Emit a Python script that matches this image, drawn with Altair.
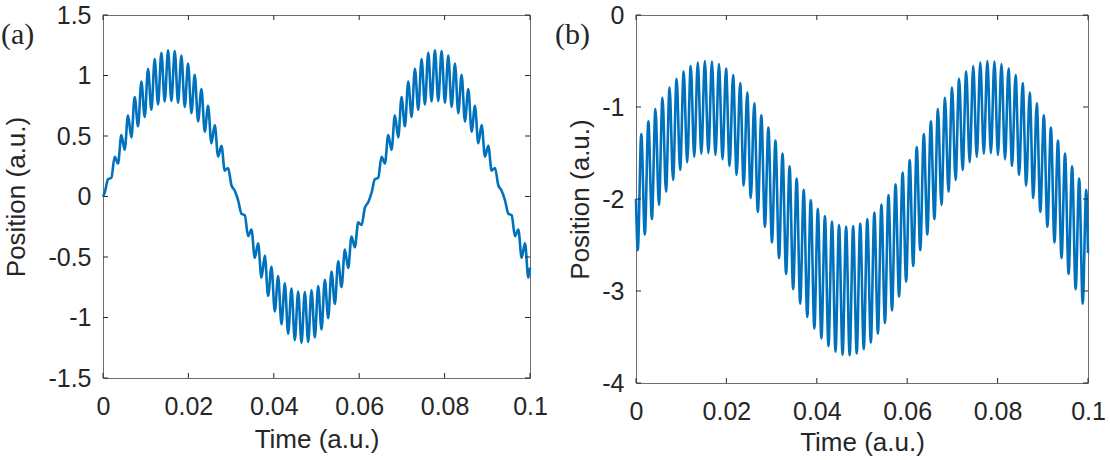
import altair as alt
import pandas as pd

# Sample times (ms): start, every fast half-cycle extremum, end
TIME_MS = [
    0.0,
    0.391, 1.172, 1.953, 2.734, 3.516, 4.297, 5.078, 5.859, 6.641, 7.422,
    8.203, 8.984, 9.766, 10.547, 11.328, 12.109, 12.891, 13.672, 14.453, 15.234,
    16.016, 16.797, 17.578, 18.359, 19.141, 19.922, 20.703, 21.484, 22.266, 23.047,
    23.828, 24.609, 25.391, 26.172, 26.953, 27.734, 28.516, 29.297, 30.078, 30.859,
    31.641, 32.422, 33.203, 33.984, 34.766, 35.547, 36.328, 37.109, 37.891, 38.672,
    39.453, 40.234, 41.016, 41.797, 42.578, 43.359, 44.141, 44.922, 45.703, 46.484,
    47.266, 48.047, 48.828, 49.609, 50.391, 51.172, 51.953, 52.734, 53.516, 54.297,
    55.078, 55.859, 56.641, 57.422, 58.203, 58.984, 59.766, 60.547, 61.328, 62.109,
    62.891, 63.672, 64.453, 65.234, 66.016, 66.797, 67.578, 68.359, 69.141, 69.922,
    70.703, 71.484, 72.266, 73.047, 73.828, 74.609, 75.391, 76.172, 76.953, 77.734,
    78.516, 79.297, 80.078, 80.859, 81.641, 82.422, 83.203, 83.984, 84.766, 85.547,
    86.328, 87.109, 87.891, 88.672, 89.453, 90.234, 91.016, 91.797, 92.578, 93.359,
    94.141, 94.922, 95.703, 96.484, 97.266, 98.047, 98.828, 99.609,
    100.0,
]

# Panel (a): position at each sample time
POSITION_A = [
    0.0,
    0.031, 0.142, 0.154, 0.328, 0.273, 0.507, 0.386, 0.672, 0.489, 0.821,
    0.580, 0.950, 0.657, 1.056, 0.717, 1.135, 0.760, 1.187, 0.785, 1.209,
    0.789, 1.202, 0.775, 1.165, 0.741, 1.099, 0.689, 1.006, 0.620, 0.889,
    0.536, 0.749, 0.439, 0.591, 0.331, 0.419, 0.214, 0.236, 0.093, 0.048,
    -0.031, -0.142, -0.154, -0.328, -0.273, -0.507, -0.386, -0.672, -0.489, -0.821,
    -0.580, -0.950, -0.657, -1.056, -0.717, -1.135, -0.760, -1.187, -0.785, -1.209,
    -0.789, -1.202, -0.775, -1.165, -0.741, -1.099, -0.689, -1.006, -0.620, -0.889,
    -0.536, -0.749, -0.439, -0.591, -0.331, -0.419, -0.214, -0.236, -0.093, -0.048,
    0.031, 0.142, 0.154, 0.328, 0.273, 0.507, 0.386, 0.672, 0.489, 0.821,
    0.580, 0.950, 0.657, 1.056, 0.717, 1.135, 0.760, 1.187, 0.785, 1.209,
    0.789, 1.202, 0.775, 1.165, 0.741, 1.099, 0.689, 1.006, 0.620, 0.889,
    0.536, 0.749, 0.439, 0.591, 0.331, 0.419, 0.214, 0.236, 0.093, 0.048,
    -0.031, -0.142, -0.154, -0.328, -0.273, -0.507, -0.386, -0.672,
    -0.588,
]

# Panel (b): position at each sample time
POSITION_B = [
    -2.0,
    -2.557, -1.294, -2.385, -1.156, -2.219, -1.023, -2.063, -0.900, -1.919, -0.789,
    -1.792, -0.693, -1.685, -0.615, -1.601, -0.556, -1.541, -0.517, -1.508, -0.501,
    -1.501, -0.506, -1.521, -0.534, -1.568, -0.583, -1.640, -0.652, -1.736, -0.739,
    -1.853, -0.843, -1.989, -0.960, -2.140, -1.089, -2.301, -1.224, -2.471, -1.365,
    -2.643, -1.506, -2.815, -1.644, -2.981, -1.777, -3.138, -1.900, -3.281, -2.011,
    -3.408, -2.107, -3.515, -2.185, -3.599, -2.244, -3.659, -2.283, -3.692, -2.299,
    -3.699, -2.294, -3.679, -2.266, -3.632, -2.217, -3.560, -2.148, -3.464, -2.061,
    -3.347, -1.957, -3.211, -1.840, -3.061, -1.712, -2.899, -1.576, -2.729, -1.435,
    -2.557, -1.294, -2.385, -1.156, -2.219, -1.023, -2.063, -0.900, -1.919, -0.789,
    -1.792, -0.693, -1.685, -0.615, -1.601, -0.556, -1.541, -0.517, -1.508, -0.501,
    -1.501, -0.506, -1.521, -0.534, -1.568, -0.583, -1.640, -0.652, -1.736, -0.739,
    -1.853, -0.843, -1.989, -0.960, -2.140, -1.089, -2.301, -1.224, -2.471, -1.365,
    -2.643, -1.506, -2.815, -1.644, -2.981, -1.777, -3.138, -1.900,
    -2.588,
]

X_TICKS = [0, 0.02, 0.04, 0.06, 0.08, 0.1]
Y_TICKS_A = [-1.5, -1, -0.5, 0, 0.5, 1, 1.5]
Y_TICKS_B = [-4, -3, -2, -1, 0]

LINE_COLOR = "#0072BD"
INK = "#262626"
FONT = "Liberation Sans"
TICK_LEN = 5

LABEL_EXPR = ("datum.value < 0 ? '-' + format(-datum.value, '~g') "
              ": format(datum.value, '~g')")


def x_enc(field, pads):
    return alt.X(
        field,
        type="quantitative",
        scale=alt.Scale(domain=[0, 0.1], nice=False, zero=False),
        axis=alt.Axis(values=X_TICKS, title="Time (a.u.)", labelExpr=LABEL_EXPR,
                      labelPadding=pads["xl"], titlePadding=pads["xt"]),
    )


def y_enc(field, ticks, pads):
    return alt.Y(
        field,
        type="quantitative",
        scale=alt.Scale(domain=[ticks[0], ticks[-1]], nice=False, zero=False),
        axis=alt.Axis(values=ticks, title="Position (a.u.)", labelExpr=LABEL_EXPR,
                      labelPadding=pads["yl"], titlePadding=pads["yt"]),
    )


def panel(values, y_ticks, width, height, tag, tag_x, tag_y, pads):
    curve = pd.DataFrame({"time": [t / 1000 for t in TIME_MS], "position": values})
    xt = pd.DataFrame({"t": X_TICKS})
    yt = pd.DataFrame({"v": y_ticks})

    line = alt.Chart(curve).mark_line(
        color=LINE_COLOR, strokeWidth=2.6, interpolate="monotone"
    ).encode(x=x_enc("time", pads), y=y_enc("position", y_ticks, pads))

    # inward tick marks on all four sides of the box
    tick_style = dict(color=INK, strokeWidth=1)
    x_bottom = alt.Chart(xt).mark_rule(**tick_style).encode(
        x=x_enc("t", pads), y=alt.value(height), y2=alt.value(height - TICK_LEN))
    x_top = alt.Chart(xt).mark_rule(**tick_style).encode(
        x=x_enc("t", pads), y=alt.value(0), y2=alt.value(TICK_LEN))
    y_left = alt.Chart(yt).mark_rule(**tick_style).encode(
        y=y_enc("v", y_ticks, pads), x=alt.value(0), x2=alt.value(TICK_LEN))
    y_right = alt.Chart(yt).mark_rule(**tick_style).encode(
        y=y_enc("v", y_ticks, pads), x=alt.value(width), x2=alt.value(width - TICK_LEN))

    label = alt.Chart(pd.DataFrame({"tag": [tag]})).mark_text(
        font="Liberation Serif", fontSize=30, color=INK, align="left", baseline="middle"
    ).encode(text="tag:N", x=alt.value(tag_x), y=alt.value(tag_y))

    return alt.layer(line, x_bottom, x_top, y_left, y_right, label).properties(
        width=width, height=height)


panel_a = panel(POSITION_A, Y_TICKS_A, 427, 363, "(a)", -102, 20,
                {"xl": 16, "xt": 7, "yl": 12, "yt": 18})
panel_b = panel(POSITION_B, Y_TICKS_B, 452, 368, "(b)", -81, 20,
                {"xl": 16, "xt": 5, "yl": 12, "yt": 8})

chart = alt.hconcat(panel_a, panel_b, spacing=6).properties(
    padding={"left": 0, "top": 2, "right": 0, "bottom": 0},
    background="white",
).configure_view(
    stroke="#6e6e6e", strokeWidth=1
).configure_axis(
    domain=False, ticks=False, tickSize=0, grid=False,
    labelFont=FONT, labelFontSize=25, labelColor=INK, labelFlush=False, labelOverlap=False,
    titleFont=FONT, titleFontSize=26, titleColor=INK, titleFontWeight="normal",
)

chart.save("out.html", embed_options={"renderer": "svg", "actions": False})
